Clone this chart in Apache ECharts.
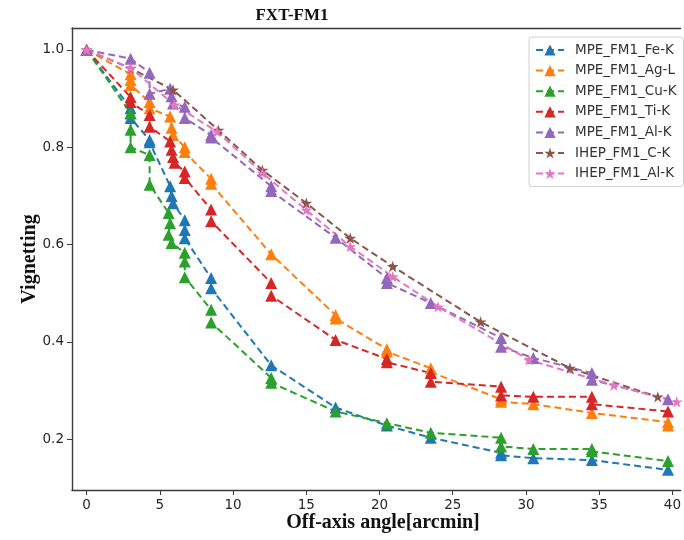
<!DOCTYPE html>
<html>
<head>
<meta charset="utf-8">
<script src="https://cdn.jsdelivr.net/npm/echarts@6/dist/echarts.min.js"></script>
<style>
  html, body { margin: 0; padding: 0; background: #fff; }
  #chart { width: 684px; height: 540px; }
</style>
</head>
<body>
<div id="chart"></div>
<script>
// Vignetting vs. off-axis angle, FXT-FM1 (pairs are [arcmin, vignetting])
const mpeFeK = [
  [0, 1.0],
  [3.0, 0.88], [3.0, 0.87], [3.0, 0.86],
  [4.3, 0.815], [4.3, 0.81],
  [5.7, 0.72], [5.8, 0.70], [5.9, 0.685],
  [6.7, 0.65], [6.7, 0.63], [6.7, 0.613],
  [8.5, 0.531], [8.5, 0.51],
  [12.6, 0.352],
  [17.0, 0.265],
  [20.5, 0.228],
  [23.5, 0.203],
  [28.3, 0.172], [28.3, 0.167],
  [30.5, 0.161],
  [34.5, 0.157],
  [39.7, 0.137]
];
const mpeAgL = [
  [0, 1.0],
  [3.0, 0.95], [3.0, 0.938], [3.0, 0.928],
  [4.3, 0.893], [4.3, 0.88],
  [5.7, 0.863], [5.8, 0.84], [5.9, 0.825],
  [6.7, 0.80], [6.7, 0.79],
  [8.5, 0.735], [8.5, 0.725],
  [12.6, 0.58],
  [17.0, 0.455], [17.0, 0.448],
  [20.5, 0.385], [20.5, 0.38],
  [23.5, 0.346], [23.5, 0.338],
  [28.3, 0.282], [28.3, 0.277],
  [30.5, 0.272],
  [34.5, 0.254],
  [39.7, 0.235], [39.7, 0.228]
];
const mpeCuK = [
  [0, 1.0],
  [3.0, 0.87], [3.0, 0.836], [3.0, 0.80],
  [4.3, 0.784], [4.3, 0.723],
  [5.6, 0.665], [5.7, 0.644], [5.6, 0.62], [5.8, 0.603],
  [6.7, 0.583], [6.7, 0.565], [6.7, 0.533],
  [8.5, 0.466], [8.5, 0.44],
  [12.6, 0.326], [12.6, 0.316],
  [17.0, 0.257],
  [20.5, 0.233],
  [23.5, 0.213],
  [28.3, 0.203], [28.3, 0.185],
  [30.5, 0.18],
  [34.5, 0.18], [34.5, 0.175],
  [39.7, 0.155]
];
const mpeTiK = [
  [0, 1.0],
  [3.0, 0.903], [3.0, 0.893],
  [4.3, 0.866], [4.3, 0.842],
  [5.7, 0.812], [5.8, 0.795], [5.9, 0.78], [6.0, 0.768],
  [6.7, 0.75], [6.7, 0.737],
  [8.5, 0.672], [8.5, 0.648],
  [12.6, 0.521], [12.6, 0.495],
  [17.0, 0.404],
  [20.5, 0.365], [20.5, 0.358],
  [23.5, 0.336], [23.5, 0.318],
  [28.3, 0.308], [28.3, 0.29],
  [30.5, 0.287],
  [34.5, 0.287], [34.5, 0.272],
  [39.7, 0.257]
];
const mpeAlK = [
  [0, 1.0],
  [3.0, 0.982],
  [4.3, 0.953], [4.3, 0.91],
  [5.7, 0.92], [5.8, 0.905], [5.9, 0.89],
  [6.7, 0.883], [6.7, 0.86],
  [8.5, 0.825], [8.5, 0.82],
  [12.6, 0.72], [12.6, 0.71],
  [17.0, 0.614],
  [20.5, 0.531], [20.5, 0.521],
  [23.5, 0.48],
  [28.3, 0.408], [28.3, 0.39],
  [30.5, 0.367],
  [34.5, 0.336], [34.5, 0.322],
  [39.7, 0.282]
];
const ihepCK = [
  [0, 1.0], [3.0, 0.962], [5.9, 0.918], [9.0, 0.835], [12.0, 0.753],
  [15.0, 0.685], [18.0, 0.613], [20.9, 0.555], [26.9, 0.441],
  [33.0, 0.346], [39.0, 0.287]
];
const ihepAlK = [
  [0, 1.0], [3.0, 0.963], [6.0, 0.887], [8.9, 0.832], [12.0, 0.747],
  [15.0, 0.671], [18.0, 0.596], [20.9, 0.534], [24.0, 0.472],
  [30.2, 0.363], [36.0, 0.311], [40.3, 0.277]
];

const seriesNames = ['MPE_FM1_Fe-K', 'MPE_FM1_Ag-L', 'MPE_FM1_Cu-K', 'MPE_FM1_Ti-K',
                     'MPE_FM1_Al-K', 'IHEP_FM1_C-K', 'IHEP_FM1_Al-K'];
const seriesData = [mpeFeK, mpeAgL, mpeCuK, mpeTiK, mpeAlK, ihepCK, ihepAlK];
const seriesColors = ['#1f77b4', '#ff7f0e', '#2ca02c', '#d62728', '#9467bd', '#8c564b', '#e377c2'];

const xTicks = [0, 5, 10, 15, 20, 25, 30, 35, 40];
const yTicks = [0.2, 0.4, 0.6, 0.8, 1.0];

const titleText = 'FXT-FM1';
const xTitle = 'Off-axis angle[arcmin]';
const yTitle = 'Vignetting';

// five-pointed star marker
const STAR = 'path://M100,0 L122.45,69.1 L195.1,69.1 L136.3,111.8 L158.8,180.9 L100,138.2 L41.2,180.9 L63.7,111.8 L4.9,69.1 L77.55,69.1 Z';

const serif = "'Liberation Serif', 'Times New Roman', serif";
const sans = "'DejaVu Sans', sans-serif";
const axisColor = '#3a3a3a';
const spine = { show: true, onZero: false, lineStyle: { color: axisColor, width: 1.4 } };

const chart = echarts.init(document.getElementById('chart'), null, { renderer: 'canvas' });

const series = seriesNames.map((name, i) => {
  const isStar = name.startsWith('IHEP');
  return {
    name,
    type: 'line',
    xAxisIndex: 0,
    data: seriesData[i],
    symbol: isStar ? STAR : 'triangle',
    symbolSize: isStar ? 12 : 12,
    symbolKeepAspect: true,
    showAllSymbol: true,
    color: seriesColors[i],
    itemStyle: { color: seriesColors[i] },
    lineStyle: { color: seriesColors[i], width: 2, type: [7, 4] },
    emphasis: { disabled: true },
    animation: false
  };
});

chart.setOption({
  animation: false,
  backgroundColor: '#ffffff',
  grid: { left: 72, right: 0, top: 28, bottom: 50, show: false },
  xAxis: [
    {
      type: 'value', min: -1, max: 40.55, position: 'bottom',
      axisLine: spine,
      splitLine: { show: false },
      axisTick: { show: true, length: 5, inside: false, customValues: xTicks,
                  lineStyle: { color: axisColor, width: 1 } },
      axisLabel: { show: true, customValues: xTicks, margin: 8, fontFamily: sans, fontSize: 13.5,
                   color: '#262626', formatter: v => String(v) }
    },
    {
      // top frame line only
      type: 'value', min: -1, max: 40.55, position: 'top',
      axisLine: spine,
      splitLine: { show: false }, axisTick: { show: false }, axisLabel: { show: false }
    }
  ],
  yAxis: {
    type: 'value', min: 0.0956, max: 1.045,
    axisLine: spine,
    splitLine: { show: false },
    axisTick: { show: true, length: 5, inside: false, customValues: yTicks,
                lineStyle: { color: axisColor, width: 1 } },
    axisLabel: { show: true, customValues: yTicks, margin: 8, fontFamily: sans, fontSize: 13.5,
                 color: '#262626', formatter: v => Number(v).toFixed(1) }
  },
  legend: {
    data: seriesNames,
    orient: 'vertical',
    left: 529, top: 37,
    itemWidth: 28, itemHeight: 14, itemGap: 6.6,
    padding: [6, 7, 6, 6],
    backgroundColor: '#ffffff',
    borderColor: '#d0d0d0', borderWidth: 1, borderRadius: 3,
    textStyle: { fontFamily: sans, fontSize: 13.5, color: '#333', padding: [0, 0, 0, 6] },
    selectedMode: false
  },
  graphic: [
    { type: 'text', x: 292, y: 16,
      style: { text: titleText, font: 'bold 17px ' + serif, fill: '#111',
               textAlign: 'center', textVerticalAlign: 'middle' } },
    { type: 'text', x: 383, y: 523,
      style: { text: xTitle, font: 'bold 20px ' + serif, fill: '#111',
               textAlign: 'center', textVerticalAlign: 'middle' } },
    { type: 'text', x: 30, y: 259, rotation: Math.PI / 2,
      style: { text: yTitle, font: 'bold 20px ' + serif, fill: '#111',
               textAlign: 'center', textVerticalAlign: 'middle' } }
  ],
  series
});
</script>
</body>
</html>
